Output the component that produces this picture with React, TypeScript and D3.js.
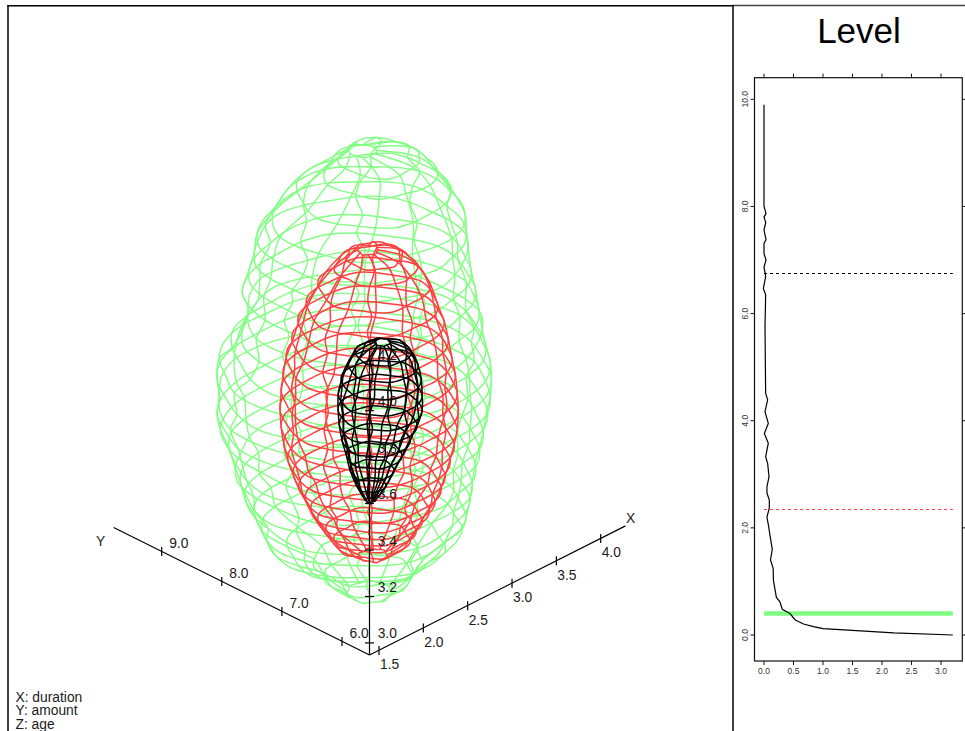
import React from "react";
import * as d3 from "d3";

// ---------- 3D axes ----------
const xTicks = [1.5, 2.0, 2.5, 3.0, 3.5, 4.0];
const yTicks = [6.0, 7.0, 8.0, 9.0];
const zTicks = [3.0, 3.2, 3.4, 3.6, 3.8, 4.0, 4.2];
const axisEnds = { x: 4.28, y: 9.8, z: 4.27 };

// Shell axis centre (duration, amount)
const shellCentre = [2.4, 7.0];

// Green shell: ring ages, sideways lean, ring twist, radii (24 directions: right, back, left, front)
const greenAges = [4.739, 4.705, 4.653, 4.567, 4.468, 4.386, 4.309, 4.222, 4.136, 4.05, 3.964, 3.899, 3.835, 3.757, 3.684, 3.611, 3.533, 3.456, 3.383, 3.31, 3.232, 3.167, 3.103, 3.038, 2.974, 2.909, 2.836];
const greenLean = [-9, 7, 9, 2, -3, -9, -11, -11, -11, -10, -9, -13, -16, -17, -18, -18, -18, -17, -16, -15, -13, -11, -9, -6, -3, -2, -2];
const greenTwist = [0, 0.03, -0.02, 0.03, -0.03, 0.02, 0.04, -0.02, 0.03, -0.03, 0.01, 0.03, -0.03, 0.02, -0.02, 0.04, -0.03, 0.01, 0.03, -0.02, 0.03, -0.03, 0.02, 0.03, -0.03, 0.02, -0.01];
const greenRings = [
  [14, 13, 12, 12, 11, 10, 10, 12, 13, 15, 15, 14, 13, 13, 14, 13, 12, 13, 14, 15, 14, 13, 14, 15],
  [41, 42, 40, 38, 37, 39, 41, 42, 40, 38, 36, 38, 40, 41, 39, 37, 38, 40, 42, 43, 41, 39, 40, 42],
  [57, 55, 52, 54, 56, 58, 56, 53, 55, 57, 54, 52, 55, 58, 60, 57, 54, 56, 58, 55, 53, 56, 58, 59],
  [78, 76, 73, 71, 73, 75, 72, 70, 72, 75, 77, 78, 76, 74, 77, 79, 76, 73, 75, 78, 76, 74, 76, 78],
  [97, 95, 93, 96, 98, 95, 92, 95, 98, 96, 94, 92, 95, 98, 100, 97, 94, 96, 99, 96, 93, 95, 98, 99],
  [104, 102, 99, 102, 105, 103, 100, 103, 106, 103, 100, 102, 105, 107, 104, 101, 104, 107, 104, 101, 103, 106, 103, 105],
  [108, 110, 107, 104, 107, 109, 106, 103, 106, 109, 107, 104, 106, 109, 106, 103, 106, 109, 106, 104, 107, 110, 107, 106],
  [111, 108, 111, 113, 110, 107, 110, 113, 111, 108, 105, 108, 111, 113, 110, 107, 110, 113, 110, 107, 110, 112, 109, 112],
  [115, 112, 115, 117, 114, 111, 114, 116, 113, 110, 113, 116, 118, 115, 112, 109, 112, 116, 113, 110, 113, 116, 113, 116],
  [118, 116, 119, 116, 113, 116, 119, 116, 113, 116, 119, 116, 113, 116, 119, 116, 113, 110, 114, 118, 115, 118, 115, 119],
  [120, 123, 120, 117, 120, 123, 120, 117, 120, 123, 120, 118, 120, 123, 120, 117, 120, 123, 120, 116, 119, 122, 119, 118],
  [127, 124, 127, 130, 127, 123, 126, 129, 126, 123, 126, 129, 126, 123, 127, 130, 127, 123, 126, 129, 126, 123, 126, 129],
  [135, 132, 135, 137, 133, 129, 132, 135, 132, 129, 133, 136, 136, 133, 137, 134, 130, 133, 136, 132, 129, 132, 135, 137],
  [137, 134, 137, 139, 136, 133, 136, 138, 135, 132, 135, 138, 137, 134, 137, 140, 136, 132, 135, 138, 134, 131, 134, 137],
  [137, 135, 138, 135, 132, 136, 139, 136, 133, 136, 139, 137, 134, 137, 140, 137, 134, 131, 135, 138, 135, 132, 136, 139],
  [134, 131, 134, 136, 133, 130, 133, 136, 132, 129, 132, 135, 136, 133, 136, 133, 130, 127, 130, 134, 131, 128, 131, 135],
  [130, 127, 130, 132, 129, 126, 129, 132, 128, 125, 128, 131, 133, 130, 127, 124, 128, 131, 128, 125, 128, 131, 128, 132],
  [125, 122, 125, 128, 124, 121, 124, 127, 124, 121, 124, 127, 125, 122, 125, 128, 125, 121, 124, 127, 123, 120, 123, 127],
  [120, 117, 120, 122, 119, 116, 119, 122, 118, 121, 120, 117, 120, 122, 119, 116, 119, 122, 118, 115, 118, 121, 118, 122],
  [116, 113, 116, 118, 115, 112, 115, 118, 115, 112, 114, 117, 116, 113, 116, 119, 115, 112, 115, 118, 114, 111, 114, 118],
  [112, 109, 112, 114, 111, 108, 106, 109, 112, 109, 112, 115, 112, 109, 106, 109, 113, 110, 107, 110, 113, 110, 107, 110],
  [106, 103, 106, 108, 105, 102, 105, 108, 105, 102, 105, 108, 106, 103, 106, 109, 106, 102, 100, 103, 106, 103, 100, 104],
  [100, 97, 100, 102, 99, 96, 99, 102, 98, 96, 99, 102, 100, 97, 100, 103, 100, 97, 94, 97, 100, 97, 94, 97],
  [78, 75, 78, 80, 77, 74, 77, 80, 77, 74, 76, 79, 78, 75, 78, 81, 78, 75, 72, 75, 78, 75, 72, 75],
  [54, 52, 55, 53, 50, 53, 55, 52, 50, 53, 55, 53, 54, 56, 53, 50, 53, 55, 52, 50, 52, 55, 53, 51],
  [44, 42, 44, 46, 43, 41, 43, 45, 43, 41, 43, 45, 44, 46, 44, 42, 44, 46, 43, 41, 43, 45, 43, 42],
  [22, 21, 23, 22, 20, 22, 24, 22, 20, 22, 23, 21, 22, 24, 22, 20, 22, 23, 21, 20, 22, 23, 21, 22],
];

// Red shell
const redAges = [4.309, 4.283, 4.24, 4.158, 4.072, 3.998, 3.921, 3.843, 3.77, 3.697, 3.62, 3.542, 3.469, 3.404, 3.34, 3.284, 3.232, 3.189, 3.146, 3.103, 3.06, 2.995];
const redLean = [-3, 3, 5, 3, 1, 0, -1, -2, -2, -2, -2, -2, -2, -2, -2, -1, -1, -1, -1, 0, 1, 2];
const redTwist = [0, 0.03, -0.02, 0.03, -0.03, 0.02, 0.03, -0.03, 0.02, -0.02, 0.03, -0.03, 0.02, 0.03, -0.02, 0.03, -0.03, 0.02, 0.03, -0.02, 0.03, 0];
const redRings = [
  [10, 9, 10, 11, 10, 9, 9, 10, 11, 10, 9, 10, 11, 10, 9, 10, 11, 10, 9, 9, 10, 11, 10, 9],
  [28, 29, 27, 26, 27, 29, 28, 26, 27, 29, 28, 26, 28, 29, 27, 26, 28, 29, 27, 26, 28, 29, 27, 28],
  [42, 40, 38, 40, 42, 43, 41, 39, 41, 43, 41, 39, 41, 43, 41, 38, 40, 42, 40, 38, 40, 42, 40, 41],
  [56, 54, 56, 58, 55, 53, 55, 57, 55, 53, 55, 57, 56, 54, 56, 58, 55, 53, 55, 57, 54, 52, 54, 56],
  [66, 64, 66, 68, 65, 63, 65, 67, 65, 63, 65, 67, 66, 64, 66, 68, 65, 62, 64, 66, 64, 62, 64, 66],
  [73, 71, 73, 75, 72, 70, 72, 74, 72, 70, 72, 74, 73, 71, 73, 75, 72, 70, 72, 74, 71, 69, 71, 73],
  [78, 76, 78, 80, 77, 75, 77, 79, 76, 74, 76, 79, 78, 76, 78, 80, 77, 75, 77, 79, 76, 74, 76, 78],
  [83, 81, 83, 85, 82, 80, 82, 84, 82, 80, 82, 84, 83, 81, 83, 85, 82, 80, 82, 84, 81, 79, 81, 83],
  [86, 84, 86, 88, 85, 83, 85, 87, 85, 83, 85, 87, 86, 84, 86, 88, 85, 83, 85, 87, 84, 82, 84, 86],
  [88, 86, 88, 90, 87, 85, 87, 89, 87, 85, 87, 89, 88, 86, 88, 90, 87, 85, 87, 89, 86, 84, 86, 88],
  [89, 87, 89, 91, 88, 86, 88, 90, 88, 86, 88, 90, 89, 87, 89, 91, 88, 86, 88, 90, 87, 85, 87, 89],
  [88, 86, 88, 90, 87, 85, 87, 89, 87, 85, 87, 89, 88, 86, 88, 90, 87, 85, 87, 89, 86, 84, 86, 88],
  [85, 83, 85, 87, 84, 82, 84, 86, 84, 82, 84, 86, 85, 83, 85, 87, 84, 82, 84, 86, 83, 81, 83, 85],
  [81, 79, 81, 83, 80, 78, 80, 82, 80, 78, 80, 82, 81, 79, 81, 83, 80, 78, 80, 82, 79, 77, 79, 81],
  [76, 74, 76, 78, 75, 73, 75, 77, 75, 73, 75, 77, 76, 74, 76, 78, 75, 73, 75, 77, 74, 72, 74, 76],
  [71, 69, 71, 73, 70, 68, 70, 72, 70, 68, 70, 72, 71, 69, 71, 73, 70, 68, 70, 72, 69, 67, 69, 71],
  [65, 63, 65, 67, 64, 62, 64, 66, 64, 62, 64, 66, 65, 63, 65, 67, 64, 62, 64, 66, 63, 61, 63, 65],
  [59, 57, 59, 61, 58, 56, 58, 60, 58, 56, 58, 60, 59, 57, 59, 61, 58, 56, 58, 60, 57, 55, 57, 59],
  [52, 50, 52, 54, 51, 49, 51, 53, 51, 49, 51, 53, 52, 50, 52, 54, 51, 49, 51, 53, 50, 48, 50, 52],
  [45, 43, 45, 47, 44, 42, 44, 46, 44, 42, 44, 46, 45, 43, 45, 47, 44, 42, 44, 46, 43, 41, 43, 45],
  [38, 36, 38, 40, 37, 35, 37, 39, 37, 35, 37, 39, 38, 36, 38, 40, 37, 35, 37, 39, 36, 34, 36, 38],
  [14, 13, 14, 15, 13, 12, 13, 15, 14, 12, 13, 15, 14, 13, 14, 15, 13, 12, 14, 15, 13, 12, 13, 14],
];

// Black shell (14 directions)
const blackAges = [3.912, 3.869, 3.813, 3.749, 3.684, 3.62, 3.555, 3.49, 3.426, 3.361, 3.297, 3.232];
const blackLean = [11, 12, 12, 10, 9, 9, 7, 5, 3, 1, 0, -1];
const blackTwist = [0, 0.04, -0.03, 0.04, -0.04, 0.03, -0.04, 0.04, -0.03, 0.04, -0.04, 0];
const blackRings = [
  [8, 7, 8, 7, 8, 7, 8, 8, 7, 8, 7, 8, 7, 8],
  [28, 27, 29, 27, 28, 26, 28, 28, 27, 29, 27, 28, 26, 28],
  [35, 34, 36, 33, 35, 34, 36, 35, 34, 36, 33, 35, 34, 35],
  [40, 39, 41, 38, 40, 39, 41, 40, 39, 41, 38, 40, 39, 40],
  [42, 41, 43, 40, 42, 41, 43, 42, 41, 43, 40, 42, 41, 42],
  [42, 41, 43, 40, 42, 41, 43, 42, 41, 43, 40, 42, 41, 42],
  [39, 38, 40, 37, 39, 38, 40, 39, 38, 40, 37, 39, 38, 39],
  [34, 33, 35, 32, 34, 33, 35, 34, 33, 35, 32, 34, 33, 34],
  [28, 27, 29, 26, 28, 27, 29, 28, 27, 29, 26, 28, 27, 28],
  [22, 21, 23, 20, 22, 21, 23, 22, 21, 23, 20, 22, 21, 22],
  [15, 14, 16, 14, 15, 14, 16, 15, 14, 16, 14, 15, 14, 15],
  [5, 4, 5, 4, 5, 4, 5, 5, 4, 5, 4, 5, 4, 5],
];

// ---------- Level panel ----------
const densityTicks = [0.0, 0.5, 1.0, 1.5, 2.0, 2.5, 3.0];
const levelTicks = [0, 2, 4, 6, 8, 10];
const curveDensity = [3.2, 2.2, 1.0, 0.84, 0.67, 0.53, 0.44, 0.31, 0.27, 0.21, 0.19, 0.16, 0.155, 0.11, 0.14, 0.10, 0.08, 0.05, 0.09, 0.09, 0.05, 0.05, 0.085, 0.062, 0.028, 0.073, 0.006, 0.073, 0.017, 0.062, 0.028, 0.017, 0.028, -0.011, 0.028, 0.0, 0.034, 0.0, 0.0, 0.034, 0.0, 0.03, 0.0, 0.034, 0.0, 0.0];
const curveLevel = [0.0, 0.04, 0.118, 0.155, 0.205, 0.28, 0.40, 0.48, 0.62, 0.70, 0.83, 1.02, 1.245, 1.40, 1.6, 1.87, 2.02, 2.2, 2.37, 2.52, 2.65, 2.77, 2.95, 3.2, 3.33, 3.58, 3.76, 3.95, 4.17, 4.39, 4.51, 5.75, 6.35, 6.47, 6.69, 6.87, 7.0, 7.12, 7.31, 7.38, 7.56, 7.7, 7.8, 7.87, 8.0, 9.9];
const contourLevels = [0.405, 2.35, 6.757];
const contourColors = ["#80FF80", "#FF4040", "#000000"];
const contourWidths = [4.5, 1, 1];
const contourDashes = ["none", "3 3", "3 3"];
const contourExtent = [0, 3.2];

// ---------- Scales ----------
const xToPx = d3.scaleLinear().domain([1.5, 4]).range([379, 600.7]);
const xToPy = d3.scaleLinear().domain([1.5, 4]).range([650.7, 538.7]);
const yToPx = d3.scaleLinear().domain([6, 9]).range([342, 161.7]);
const yToPy = d3.scaleLinear().domain([6, 9]).range([641, 551]);
const zToPy = d3.scaleLinear().domain([3, 4.2]).range([642.7, 364]);
const originX = 369.5;
const originY = 655;
const x0 = xToPx.invert(originX);
const y0 = yToPx.invert(originX);
const z0 = zToPy.invert(originY);

function project(x: number, y: number, z: number): [number, number] {
  return [
    xToPx(x) + yToPx(y) - originX,
    xToPy(x) + yToPy(y) + zToPy(z) - 2 * originY,
  ];
}

const densityScale = d3.scaleLinear().domain([0, 3]).range([764, 941]);
const levelScale = d3.scaleLinear().domain([0, 10]).range([635, 99.3]);

type Pt = [number, number];
const closedLine = d3.line<Pt>().curve(d3.curveCatmullRomClosed.alpha(0.5));
const openLine = d3.line<Pt>().curve(d3.curveCatmullRom.alpha(0.5));
const plainLine = d3.line<Pt>();

function shellPaths(ages: number[], lean: number[], twist: number[], rings: number[][], merStep: number) {
  const n = rings[0].length;
  const pts: Pt[][] = rings.map((row, i) =>
    row.map((w, j) => {
      const phi = (j / n) * 2 * Math.PI - Math.PI / 4 + twist[i];
      const s = lean[i];
      const dur = shellCentre[0] + s / 177.4 + (w / 125.4) * Math.cos(phi);
      const amt = shellCentre[1] - s / 120 + (w / 84.9) * Math.sin(phi);
      return project(dur, amt, ages[i]);
    })
  );
  const out: string[] = [];
  pts.forEach((ring) => out.push(closedLine(ring) as string));
  for (let j = 0; j < n; j += merStep) out.push(openLine(pts.map((r) => r[j])) as string);
  return out;
}

const greenPaths = shellPaths(greenAges, greenLean, greenTwist, greenRings, 2);
const redPaths = shellPaths(redAges, redLean, redTwist, redRings, 2);
const blackPaths = shellPaths(blackAges, blackLean, blackTwist, blackRings, 1);

const labelFont = "Liberation Sans, Arial, Helvetica, sans-serif";
const textGrey = "#1a1a1a";

export default function App() {
  const o: Pt = [originX, originY];
  const xEnd = project(axisEnds.x, y0, z0);
  const yEnd = project(x0, axisEnds.y, z0);
  const zEnd = project(x0, y0, axisEnds.z);
  const curve: Pt[] = curveDensity.map((d, i) => [densityScale(d), levelScale(curveLevel[i])]);
  const boxL = 754.5, boxR = 962.3, boxT = 77.7, boxB = 661;
  return (
    <svg
      width={965}
      height={731}
      viewBox="0 0 965 731"
      style={{ position: "absolute", left: 0, top: 0, display: "block", background: "#fff" }}
      fontFamily={labelFont}
    >
      {/* frame */}
      <line x1={7.3} x2={733} y1={5.7} y2={5.7} stroke="#000" strokeWidth={1.5} />
      <line x1={733} x2={965} y1={5.5} y2={5.5} stroke="#444" strokeWidth={1.4} />
      <line x1={8} x2={8} y1={5} y2={731} stroke="#000" strokeWidth={1.5} />
      <line x1={733} x2={733} y1={5} y2={731} stroke="#000" strokeWidth={1.5} />

      {/* shells */}
      <g fill="none" strokeLinejoin="round">
        <g stroke="#80FF80" strokeWidth={1.4}>
          {greenPaths.map((d, i) => <path key={i} d={d} />)}
        </g>
        <g stroke="#FF4040" strokeWidth={1.5}>
          {redPaths.map((d, i) => <path key={i} d={d} />)}
        </g>
        <g stroke="#000" strokeWidth={1.5}>
          {blackPaths.map((d, i) => <path key={i} d={d} />)}
        </g>
      </g>

      {/* axes */}
      <g stroke="#000" strokeWidth={1.2} fill="none">
        <path d={plainLine([o, xEnd]) as string} />
        <path d={plainLine([o, yEnd]) as string} />
        <path d={plainLine([o, zEnd]) as string} />
        {xTicks.map((t) => {
          const p = project(t, y0, z0);
          return <line key={t} x1={p[0]} x2={p[0]} y1={p[1] - 4.5} y2={p[1] + 4.5} />;
        })}
        {yTicks.map((t) => {
          const p = project(x0, t, z0);
          return <line key={t} x1={p[0]} x2={p[0]} y1={p[1] - 4.5} y2={p[1] + 4.5} />;
        })}
        {zTicks.map((t) => {
          const p = project(x0, y0, t);
          return <line key={t} x1={p[0] - 4.5} x2={p[0] + 4.5} y1={p[1]} y2={p[1]} />;
        })}
      </g>
      <g fontSize={13.8} fill={textGrey}>
        {xTicks.map((t) => {
          const p = project(t, y0, z0);
          return <text key={t} x={p[0] + 1} y={p[1] + 19}>{t.toFixed(1)}</text>;
        })}
        {yTicks.map((t) => {
          const p = project(x0, t, z0);
          return <text key={t} x={p[0] + 7.5} y={p[1] - 3.5}>{t.toFixed(1)}</text>;
        })}
        {zTicks.map((t) => {
          const p = project(x0, y0, t);
          return <text key={t} x={p[0] + 8.2} y={p[1] - 4.5}>{t.toFixed(1)}</text>;
        })}
        <text x={626} y={523}>X</text>
        <text x={96} y={546}>Y</text>
        <text x={15.5} y={701.5}>X: duration</text>
        <text x={15.5} y={715.3}>Y: amount</text>
        <text x={15.5} y={729}>Z: age</text>
      </g>

      {/* Level panel */}
      <text x={859} y={43} fontSize={35} textAnchor="middle" fill="#000">Level</text>
      <rect x={boxL} y={boxT} width={boxR - boxL} height={boxB - boxT} fill="none" stroke="#111" strokeWidth={1.2} />
      <g stroke="#111" strokeWidth={1}>
        {densityTicks.map((t) => (
          <g key={t}>
            <line x1={densityScale(t)} x2={densityScale(t)} y1={boxT} y2={boxT - 4} />
            <line x1={densityScale(t)} x2={densityScale(t)} y1={boxB} y2={boxB + 4} />
          </g>
        ))}
        {levelTicks.map((t) => (
          <g key={t}>
            <line x1={boxL} x2={boxL - 4} y1={levelScale(t)} y2={levelScale(t)} />
            <line x1={boxR} x2={boxR + 4} y1={levelScale(t)} y2={levelScale(t)} />
          </g>
        ))}
      </g>
      <g fontSize={8.5} fill="#333">
        {densityTicks.map((t) => (
          <text key={t} x={densityScale(t)} y={674} textAnchor="middle">{t.toFixed(1)}</text>
        ))}
        {levelTicks.map((t) => (
          <text
            key={t}
            transform={`translate(748,${levelScale(t)}) rotate(-90)`}
            textAnchor="middle"
          >
            {t.toFixed(1)}
          </text>
        ))}
      </g>
      {contourLevels.map((l, i) => {
        const snapped = Math.floor(levelScale(l)) + 0.5;
        return (
          <line
            key={l}
            x1={densityScale(contourExtent[0])}
            x2={densityScale(contourExtent[1])}
            y1={snapped}
            y2={snapped}
            stroke={contourColors[i]}
            strokeWidth={contourWidths[i]}
            strokeDasharray={contourDashes[i]}
          />
        );
      })}
      <path d={plainLine(curve) as string} fill="none" stroke="#000" strokeWidth={1.2} />
    </svg>
  );
}
